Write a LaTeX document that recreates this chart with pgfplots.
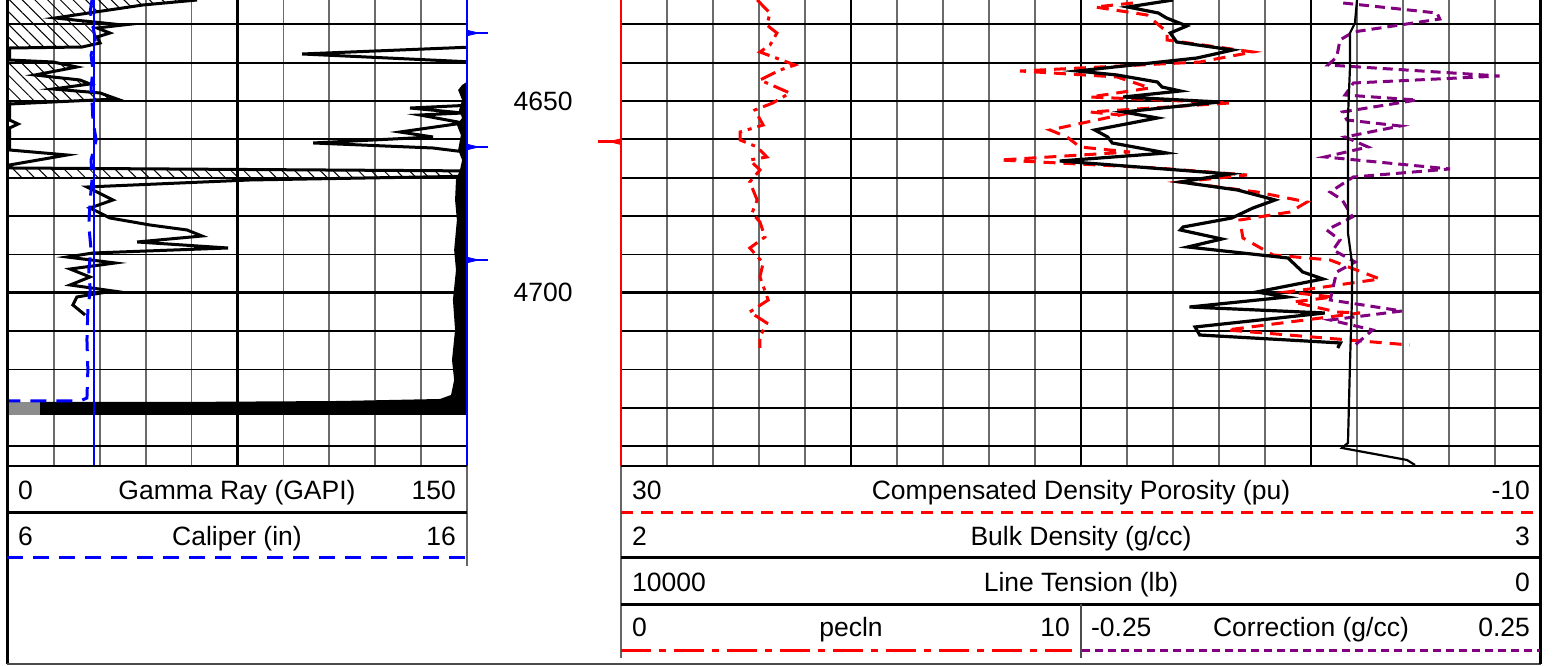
\documentclass[border=0pt]{standalone}
\usepackage{fontspec}
\setmainfont{Liberation Sans}
\usepackage{pgfplots}
\pgfplotsset{compat=1.18}
\usetikzlibrary{patterns.meta}
\definecolor{cred}{RGB}{255,0,0}
\definecolor{cblue}{RGB}{0,0,255}
\definecolor{cpurple}{RGB}{128,0,128}
\pgfplotsset{
  trk/.style={scale only axis, anchor=north west, y dir=reverse,
    ymin=4623.66, ymax=4745.2, height=233pt,
    axis line style={draw=none}, major tick length=0pt,
    xticklabels={}, yticklabels={}},
  ltrk/.style={trk, at={(4pt,332.5pt)}, width=229.5pt},
  rtrk/.style={trk, at={(310.5pt,332.5pt)}, width=460pt},
  ygrid/.style={ytick={4630,4640,...,4740}, ymajorgrids,
    grid style={black, line width=0.85pt},
    extra y ticks={4650,4700}, extra y tick labels={},
    extra y tick style={grid style={black, line width=1.4pt}}},
}
\begin{document}
\begin{tikzpicture}[font=\fontsize{13.25}{15}\selectfont]
\useasboundingbox (0,0) rectangle (777pt,332.5pt);

% ---------------- LEFT TRACK ----------------
\begin{axis}[ltrk, xmin=0, xmax=150, ytick=\empty,
  xtick={15,30,45,60,90,105,120,135}, xmajorgrids,
  grid style={black!58, line width=0.85pt},
  extra x ticks={75}, extra x tick labels={},
  extra x tick style={grid style={black, line width=1.2pt}}]
\addplot[draw=none] coordinates {(0,4630) (1,4631)};
\end{axis}

\begin{axis}[ltrk, xmin=0, xmax=150, xtick=\empty, ygrid]
% lithology hatch
\addplot[draw=none, pattern={Lines[angle=-45,distance=4.5pt,line width=0.5pt]}, pattern color=black]
 coordinates {(0,4623.66) (61.8,4623.66) (44.1,4624.96) (15.4,4628.35) (37.6,4630.18) (29.1,4630.96) (33.3,4632.27) (29.1,4633.31) (30.1,4634.87) (24.2,4635.92) (0,4636.18)} --cycle;
\addplot[draw=none, pattern={Lines[angle=-45,distance=4.5pt,line width=0.5pt]}, pattern color=black]
 coordinates {(0,4639.31) (14.7,4639.83) (22.5,4641.13) (8.8,4643.22) (23.5,4644.52) (26.8,4645.57) (14.7,4646.87) (30.1,4647.91) (35.6,4649.48) (0,4650.78)} --cycle;
\addplot[draw=none, pattern={Lines[angle=-45,distance=4.5pt,line width=0.5pt]}, pattern color=black]
 coordinates {(0,4667.47) (155,4668.26) (155,4669.82) (0,4669.82)} --cycle;
% pegged curve at right edge and bottom bar
\addplot[draw=none, fill=black] coordinates {
 (150,4645.0) (148.4,4645.83) (147.1,4647.13) (148.4,4649.74) (147.4,4652.35) (148.4,4654.43)
 (146.7,4656.26) (148.0,4658.87) (147.1,4662.78) (148.4,4665.39) (147.7,4668.0) (146.4,4670.60)
 (146.1,4675.82) (146.7,4681.04) (145.8,4688.86) (146.4,4694.08) (145.4,4701.90) (146.1,4709.72)
 (145.1,4717.54) (145.8,4722.76) (144.8,4726.67) (141.2,4727.72) (108.5,4728.24) (56.2,4728.50)
 (10.5,4728.50) (10.5,4731.89) (150,4731.89)} --cycle;
\addplot[draw=none, fill=black!45] coordinates {(0,4728.50) (10.5,4728.50) (10.5,4731.89) (0,4731.89)} --cycle;
% Gamma ray
\addplot[black, line width=1.5pt] coordinates {
 (61.8,4623.66) (44.1,4624.96) (15.4,4628.35) (37.6,4630.18) (29.1,4630.96) (33.3,4632.27)
 (29.1,4633.31) (30.1,4634.87) (24.2,4635.92) (0.5,4636.18) (0.5,4639.31) (14.7,4639.83)
 (22.5,4641.13) (8.8,4643.22) (23.5,4644.52) (26.8,4645.57) (14.7,4646.87) (30.1,4647.91)
 (35.6,4649.48) (0.5,4650.78) (0.5,4654.96) (3.3,4656.0) (0.5,4657.04) (0.5,4662.78)
 (19.3,4664.08) (0.5,4666.69) (0.5,4667.47) (155,4668.26) (155,4669.56) (79.1,4670.60)
 (25.8,4672.43) (34.3,4675.82) (26.8,4677.90) (30.1,4679.21) (33.3,4680.51) (46.4,4682.34)
 (58.5,4683.64) (63.4,4685.21) (42.2,4686.77) (71.9,4688.34) (27.8,4689.64) (19.3,4690.69)
 (35.0,4692.25) (20.3,4693.82) (26.8,4695.90) (20.3,4697.99) (34.3,4699.55) (22.5,4701.12)
 (21.2,4703.20) (25.2,4705.81)};
\addplot[black, line width=1.5pt] coordinates {(152,4635.92) (96.1,4637.74) (152,4639.83)};
\addplot[black, line width=1.5pt] coordinates {
 (152,4651.05) (131.4,4651.83) (148.7,4653.13) (134.6,4653.65) (143.5,4654.96) (148.7,4655.74)
 (128.1,4658.09) (138.9,4659.39) (99.7,4660.95) (138.9,4662.26) (152,4663.56)};
\end{axis}

\begin{axis}[ltrk, xmin=6, xmax=16, xtick=\empty, ytick=\empty, clip=false]
% bit size
\addplot[cblue, line width=1pt] coordinates {(7.875,4623.66) (7.875,4745.2)};
% caliper
\addplot[cblue, line width=1.5pt, dash pattern=on 8pt off 5pt] coordinates {
 (7.83,4623.66) (7.79,4626.79) (7.85,4630.18) (7.90,4634.09) (7.81,4638.0) (7.85,4641.92)
 (7.81,4646.61) (7.83,4649.74) (7.85,4654.96) (7.92,4660.17) (7.81,4665.39) (7.83,4670.60)
 (7.79,4675.82) (7.76,4682.34) (7.81,4688.86) (7.76,4694.08) (7.79,4699.29) (7.74,4704.51)
 (7.72,4712.33) (7.74,4720.16) (7.72,4727.46) (7.57,4728.24) (6.0,4728.24)};
% marker flags at right edge
\addplot[cblue, line width=1.2pt] coordinates {(16,4632.27) (16.46,4632.27)};
\addplot[cblue, line width=1.2pt] coordinates {(16,4662.0) (16.46,4662.0)};
\addplot[cblue, line width=1.2pt] coordinates {(16,4691.47) (16.46,4691.47)};
\addplot[cblue, fill=cblue, line width=0.4pt] coordinates {(16.02,4631.6) (16.25,4632.27) (16.02,4632.94)} --cycle;
\addplot[cblue, fill=cblue, line width=0.4pt] coordinates {(16.02,4661.33) (16.25,4662.0) (16.02,4662.67)} --cycle;
\addplot[cblue, fill=cblue, line width=0.4pt] coordinates {(16.02,4690.8) (16.25,4691.47) (16.02,4692.14)} --cycle;
\node at (axis cs:17.66,4650) {4650};
\node at (axis cs:17.66,4700) {4700};
\end{axis}

% ---------------- RIGHT TRACK ----------------
\begin{axis}[rtrk, xmin=0, xmax=20, ytick=\empty,
  xtick={1,2,3,4,6,7,8,9,11,12,13,14,16,17,18,19}, xmajorgrids,
  grid style={black!58, line width=0.85pt},
  extra x ticks={5,10,15}, extra x tick labels={},
  extra x tick style={grid style={black, line width=1.2pt}}]
\addplot[draw=none] coordinates {(0,4630) (1,4631)};
\end{axis}

\begin{axis}[rtrk, xmin=0, xmax=20, xtick=\empty, ygrid, clip=false]
% pecln (0-10 on left half)
\addplot[cred, line width=1.5pt, dash pattern=on 8pt off 3pt on 2pt off 3pt] coordinates {
 (2.96,4623.66) (3.24,4627.05) (3.17,4630.18) (3.39,4632.27) (3.24,4635.40) (3.02,4637.22)
 (3.78,4640.61) (3.46,4641.92) (3.02,4644.52) (3.67,4647.91) (3.30,4650.52) (2.91,4652.35)
 (3.09,4656.26) (2.59,4658.09) (2.59,4660.17) (2.96,4662.0) (3.17,4664.60) (2.80,4665.39)
 (3.02,4668.0) (2.80,4671.13) (2.96,4675.82) (2.85,4679.21) (3.02,4681.56) (3.13,4685.47)
 (2.80,4688.34) (3.09,4692.25) (3.02,4695.90) (3.20,4701.90) (2.80,4705.03) (3.17,4707.90)
 (3.02,4711.55) (3.02,4714.42)};
% red flag at left edge
\addplot[cred, line width=1.2pt] coordinates {(0,4660.6) (-0.5,4660.6)};
\addplot[cred, fill=cred, line width=0.4pt] coordinates {(-0.03,4659.93) (-0.25,4660.6) (-0.03,4661.27)} --cycle;
\end{axis}

\begin{axis}[rtrk, x dir=reverse, xmin=-10, xmax=30, xtick=\empty, ytick=\empty]
% density porosity
\addplot[cred, line width=1.5pt, dash pattern=on 6pt off 4pt] coordinates {
 (7.74,4624.44) (9.39,4625.49) (7.13,4627.57) (6.26,4632.0) (6.26,4634.09) (2.52,4637.22)
 (4.83,4639.83) (12.65,4642.18) (8.43,4643.74) (7.0,4646.61) (9.61,4648.96) (3.52,4650.52)
 (9.61,4652.87) (8.30,4653.65) (11.35,4657.56) (10.61,4659.39) (10.04,4662.0) (7.87,4663.30)
 (13.52,4665.39) (6.70,4667.47) (2.78,4669.30) (5.70,4671.13) (2.35,4673.73) (0.17,4676.34)
 (0.91,4678.95) (3.09,4681.04) (2.96,4685.73) (1.65,4690.16) (-0.83,4691.47) (-3.0,4696.42)
 (-0.26,4698.77) (1.04,4699.81) (-0.96,4701.12) (0.78,4702.42) (-1.13,4705.03) (-2.13,4705.29)
 (3.65,4709.72) (-4.30,4713.64)};
\end{axis}

\begin{axis}[rtrk, xmin=-0.75, xmax=0.25, xtick=\empty, ytick=\empty]
% correction
\addplot[cpurple, line width=1.5pt, dash pattern=on 5pt off 3pt] coordinates {
 (0.035,4624.44) (0.137,4627.05) (0.140,4628.62) (0.046,4632.0) (0.0315,4634.09) (0.028,4638.53)
 (0.0185,4640.61) (0.205,4643.48) (0.046,4645.31) (0.037,4648.44) (0.115,4649.74) (0.034,4652.87)
 (0.039,4654.96) (0.097,4656.52) (0.037,4659.39) (0.062,4662.0) (0.015,4664.60) (0.151,4667.73)
 (0.046,4669.82) (0.0207,4673.73) (0.034,4675.82) (0.045,4680.25) (0.017,4683.64) (0.0315,4686.25)
 (0.024,4688.86) (0.048,4691.99) (0.028,4694.60) (0.024,4698.51) (0.021,4701.90) (0.099,4704.77)
 (0.021,4707.12) (0.067,4709.72) (0.048,4713.64)};
\end{axis}

\begin{axis}[rtrk, xmin=2, xmax=3, xtick=\empty, ytick=\empty]
% bulk density
\addplot[black, line width=1.6pt] coordinates {
 (2.600,4623.66) (2.551,4625.49) (2.584,4627.05) (2.593,4628.35) (2.604,4629.40) (2.615,4630.44)
 (2.597,4632.27) (2.604,4634.61) (2.665,4636.70) (2.626,4638.79) (2.496,4642.18) (2.539,4643.22)
 (2.583,4645.05) (2.588,4646.35) (2.608,4647.39) (2.546,4648.96) (2.651,4650.26) (2.546,4652.87)
 (2.583,4654.43) (2.515,4657.56) (2.529,4659.39) (2.534,4660.95) (2.593,4663.56) (2.477,4665.65)
 (2.662,4669.04) (2.608,4671.13) (2.670,4673.21) (2.711,4675.82) (2.687,4677.90) (2.664,4680.51)
 (2.611,4682.86) (2.608,4683.64) (2.653,4685.99) (2.616,4688.08) (2.725,4690.95) (2.741,4694.60)
 (2.763,4696.42) (2.691,4699.81) (2.724,4701.12) (2.618,4703.73) (2.765,4705.29) (2.624,4708.94)
 (2.629,4711.03) (2.782,4713.11) (2.779,4714.42)};
\end{axis}

\begin{axis}[rtrk, x dir=reverse, xmin=0, xmax=10000, xtick=\empty, ytick=\empty]
% line tension
\addplot[black, line width=1.1pt] coordinates {
 (2000,4623.66) (2022,4629.66) (2076,4632.27) (2076,4641.13) (2098,4654.17) (2098,4684.43)
 (2054,4692.25) (2054,4701.12) (2076,4718.33) (2098,4739.19) (2163,4740.50) (1457,4743.63)
 (1370,4744.93)};
\end{axis}

% ---------------- FRAME AND HEADERS ----------------
\draw[black, line width=1.5pt] (3.75pt,332.5pt) -- (3.75pt,0.5pt);
\draw[black!70, line width=0.7pt] (3.5pt,0.5pt) -- (770.5pt,0.5pt);
\draw[black, line width=1.5pt] (770.25pt,332.5pt) -- (770.25pt,0.5pt);
\draw[cblue, line width=1.1pt] (233.5pt,332.5pt) -- (233.5pt,99.5pt);
\draw[black!60, line width=0.6pt] (233.5pt,99.5pt) -- (233.5pt,49.5pt);
\draw[cred, line width=1.4pt] (310.5pt,332.5pt) -- (310.5pt,99.5pt);
\draw[black!60, line width=0.6pt] (310.5pt,99.5pt) -- (310.5pt,3.5pt);
\draw[black, line width=0.7pt] (3.5pt,99.5pt) -- (233.5pt,99.5pt);
\draw[black, line width=0.7pt] (310.5pt,99.5pt) -- (770.5pt,99.5pt);
% left header
\draw[black, line width=1.5pt] (3.5pt,76.5pt) -- (233.5pt,76.5pt);
\draw[cblue, line width=1.5pt, dash pattern=on 8pt off 5pt] (3.5pt,54pt) -- (233.5pt,54pt);
\node[anchor=base west] at (5.5pt,82.75pt) {0};
\node[anchor=base] at (118.5pt,82.75pt) {Gamma Ray (GAPI)};
\node[anchor=base east] at (231.5pt,82.75pt) {150};
\node[anchor=base west] at (5.5pt,59.75pt) {6};
\node[anchor=base] at (118.5pt,59.75pt) {Caliper (in)};
\node[anchor=base east] at (231.5pt,59.75pt) {16};
% right header
\draw[cred, line width=1.5pt, dash pattern=on 6pt off 4pt] (310.5pt,76.5pt) -- (770pt,76.5pt);
\draw[black, line width=1.5pt] (310.5pt,54pt) -- (770pt,54pt);
\draw[black, line width=1.5pt] (310.5pt,30.5pt) -- (770pt,30.5pt);
\draw[cred, line width=1.5pt, dash pattern=on 15pt off 4pt on 3.5pt off 4pt] (310.5pt,7.15pt) -- (536pt,7.15pt);
\draw[cpurple, line width=1.5pt, dash pattern=on 4pt off 2.5pt] (541pt,7.15pt) -- (770pt,7.15pt);
\draw[black!70, line width=0.7pt] (540.5pt,30.5pt) -- (540.5pt,3.5pt);
\node[anchor=base west] at (312.5pt,82.75pt) {30};
\node[anchor=base] at (540.5pt,82.75pt) {Compensated Density Porosity (pu)};
\node[anchor=base east] at (768.5pt,82.75pt) {-10};
\node[anchor=base west] at (312.5pt,59.75pt) {2};
\node[anchor=base] at (540.5pt,59.75pt) {Bulk Density (g/cc)};
\node[anchor=base east] at (768.5pt,59.75pt) {3};
\node[anchor=base west] at (312.5pt,36.75pt) {10000};
\node[anchor=base] at (540.5pt,36.75pt) {Line Tension (lb)};
\node[anchor=base east] at (768.5pt,36.75pt) {0};
\node[anchor=base west] at (312.5pt,14.25pt) {0};
\node[anchor=base] at (425.5pt,14.25pt) {pecln};
\node[anchor=base east] at (538.5pt,14.25pt) {10};
\node[anchor=base west] at (542pt,14.25pt) {-0.25};
\node[anchor=base] at (655.5pt,14.25pt) {Correction (g/cc)};
\node[anchor=base east] at (768.5pt,14.25pt) {0.25};
\end{tikzpicture}
\end{document}
